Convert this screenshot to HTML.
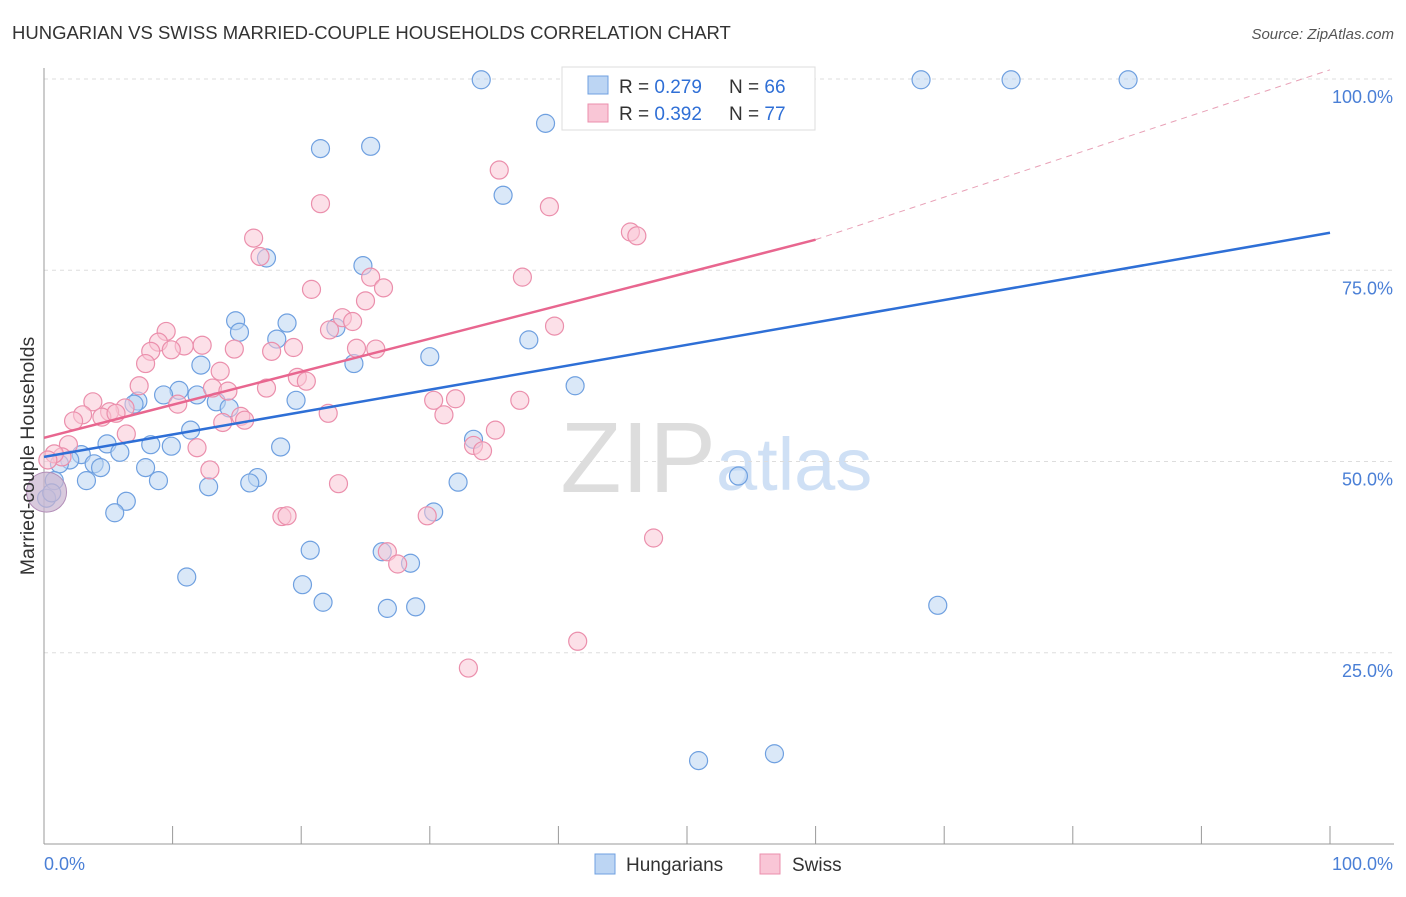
<!DOCTYPE html>
<html><head><meta charset="utf-8"><style>
body{margin:0;background:#fff;font-family:"Liberation Sans",sans-serif;}
svg text{font-family:"Liberation Sans",sans-serif;}
</style></head><body>
<svg id="c" width="1406" height="892" xmlns="http://www.w3.org/2000/svg">
<text x="12" y="39" font-size="18.5" fill="#333">HUNGARIAN VS SWISS MARRIED-COUPLE HOUSEHOLDS CORRELATION CHART</text>
<text x="1394" y="39" font-size="15" fill="#555" font-style="italic" text-anchor="end">Source: ZipAtlas.com</text>
<text x="716" y="492" font-size="100" fill="#ddd" text-anchor="end" font-family="Liberation Serif">ZIP</text>
<text x="716" y="490" font-size="74" fill="#cfe0f5">atlas</text>
<g id="grid"></g><g id="axes"></g><g id="pts"></g><g id="lines"></g>
<text transform="translate(34,456) rotate(-90)" font-size="19.5" fill="#333" text-anchor="middle">Married-couple Households</text>
<g>
<rect x="562" y="67" width="253" height="63" fill="#fff" stroke="#ddd"/>
<rect x="588" y="76" width="20" height="18" fill="#bcd5f3" stroke="#6fa0e0"/>
<rect x="588" y="104" width="20" height="18" fill="#f9c6d6" stroke="#eb8fac"/>
<text x="619" y="93" font-size="19" fill="#333">R = <tspan fill="#2f6fd6">0.279</tspan></text>
<text x="729" y="93" font-size="19" fill="#333">N = <tspan fill="#2f6fd6">66</tspan></text>
<text x="619" y="120" font-size="19" fill="#333">R = <tspan fill="#2f6fd6">0.392</tspan></text>
<text x="729" y="120" font-size="19" fill="#333">N = <tspan fill="#2f6fd6">77</tspan></text>
</g>
<g>
<rect x="595" y="854" width="20" height="20" fill="#bcd5f3" stroke="#6fa0e0"/>
<text x="626" y="871" font-size="19" fill="#333">Hungarians</text>
<rect x="760" y="854" width="20" height="20" fill="#f9c6d6" stroke="#eb8fac"/>
<text x="792" y="871" font-size="19" fill="#333">Swiss</text>
</g>
</svg>
<script>
const yTicks=[25,50,75,100];
const xTickCount=10;
const blueX=[34.0,68.2,75.2,84.3,41.1,39.0,21.5,25.4,35.7,17.3,24.8,14.9,18.9,15.2,22.7,18.1,37.7,30.0,24.1,12.2,41.3,10.5,9.3,11.9,19.6,7.3,7.0,13.4,14.4,11.4,8.3,4.9,33.4,18.4,5.9,9.9,2.9,2.0,1.2,3.9,4.4,7.9,0.8,3.3,8.9,12.8,16.6,16.0,32.2,54.0,6.4,5.5,30.3,20.7,26.3,11.1,28.5,20.1,21.7,26.7,28.9,69.5,50.9,56.8,0.2,0.6];
const blueY=[99.9,99.9,99.9,99.9,96.3,94.2,90.9,91.2,84.8,76.6,75.6,68.4,68.1,66.9,67.5,66.0,65.9,63.7,62.8,62.6,59.9,59.3,58.7,58.7,58.0,57.9,57.5,57.8,57.0,54.1,52.2,52.3,52.9,51.9,51.2,52.0,50.9,50.2,49.7,49.7,49.2,49.2,47.5,47.5,47.5,46.7,47.9,47.2,47.3,48.1,44.8,43.3,43.4,38.4,38.2,34.9,36.7,33.9,31.6,30.8,31.0,31.2,10.9,11.8,45.2,45.9];
const pinkX=[44.9,52.4,35.4,21.5,39.3,45.6,46.1,16.3,16.8,37.2,20.8,25.4,26.4,25.0,23.2,24.0,22.2,39.7,9.5,8.9,10.9,12.3,19.4,14.8,8.3,9.9,17.7,24.3,25.8,7.9,13.7,19.7,20.4,7.4,13.1,14.3,17.3,10.4,3.8,6.3,5.1,3.0,2.3,4.5,5.6,30.3,32.0,37.0,15.3,15.6,13.9,22.1,31.1,6.4,1.9,1.4,35.1,33.4,34.1,11.9,0.8,12.9,22.9,18.5,18.9,29.8,26.7,27.5,47.4,41.5,33.0,0.3];
const pinkY=[99.9,99.9,88.1,83.7,83.3,80.0,79.5,79.2,76.8,74.1,72.5,74.1,72.7,71.0,68.8,68.3,67.2,67.7,67.0,65.6,65.1,65.2,64.9,64.7,64.4,64.6,64.4,64.8,64.7,62.8,61.8,61.0,60.5,59.9,59.6,59.2,59.6,57.5,57.8,57.0,56.5,56.1,55.3,55.8,56.3,58.0,58.2,58.0,55.9,55.4,55.1,56.3,56.1,53.6,52.2,50.6,54.1,52.1,51.4,51.8,51.0,48.9,47.1,42.8,42.9,42.9,38.2,36.6,40.0,26.5,23.0,50.2];
const blueFit=[50.6,79.9];
const pinkFit=[53.1,79.0,101.2];
const NS="http://www.w3.org/2000/svg";
const X0=44,X1=1330,YB=844,YT=79;
const sx=v=>X0+(X1-X0)*v/100, sy=v=>YB-(YB-YT)*v/100;
function mk(t,a,p){const e=document.createElementNS(NS,t);for(const k in a)e.setAttribute(k,a[k]);document.getElementById(p).appendChild(e);return e;}
for(const t of yTicks){
 const g=mk('line',{x1:X0,x2:1394,y1:sy(t),y2:sy(t),stroke:'#ddd','stroke-dasharray':'4,4'},'grid');
 
 
 const l=mk('text',{x:1393,y:sy(t)+24,'font-size':18,fill:'#4a7fd6','text-anchor':'end'},'axes');l.textContent=t.toFixed(1)+'%';
 
 
}
mk('line',{x1:X0,x2:X0,y1:68,y2:YB,stroke:'#999'},'axes');
mk('line',{x1:X0,x2:1394,y1:YB,y2:YB,stroke:'#999'},'axes');
for(let i=1;i<=xTickCount;i++){const x=sx(i*100/xTickCount);mk('line',{x1:x,x2:x,y1:826,y2:YB,stroke:'#999'},'axes');}
let t=mk('text',{x:44,y:870,'font-size':18,fill:'#4a7fd6'},'axes');t.textContent='0.0%';


t=mk('text',{x:1393,y:870,'font-size':18,fill:'#4a7fd6','text-anchor':'end'},'axes');t.textContent='100.0%';


function pts(xs,ys,f,s,name){for(let i=0;i<xs.length;i++){const c=mk('circle',{cx:sx(xs[i]),cy:sy(ys[i]),r:9,fill:f,'fill-opacity':0.55,stroke:s,'stroke-width':1.2},'pts');
 
 }}
pts(blueX,blueY,'#bcd5f3','#6fa0e0','hungarian-point');
pts(pinkX,pinkY,'#f9c6d6','#eb8fac','swiss-point');
const big=mk('circle',{cx:sx(0.2),cy:sy(46),r:20,fill:'#c9b3cf','fill-opacity':0.7,stroke:'#b38fb8'},'pts');


let ln=mk('line',{x1:sx(0),y1:sy(blueFit[0]),x2:sx(100),y2:sy(blueFit[1]),stroke:'#2e6fd6','stroke-width':2.5},'lines');


ln=mk('line',{x1:sx(0),y1:sy(pinkFit[0]),x2:sx(60),y2:sy(pinkFit[1]),stroke:'#e8668f','stroke-width':2.5},'lines');


ln=mk('line',{x1:sx(60),y1:sy(pinkFit[1]),x2:sx(100),y2:sy(pinkFit[2]),stroke:'#e8a0b6','stroke-width':1,'stroke-dasharray':'6,5'},'lines');


</script>
</body></html>
